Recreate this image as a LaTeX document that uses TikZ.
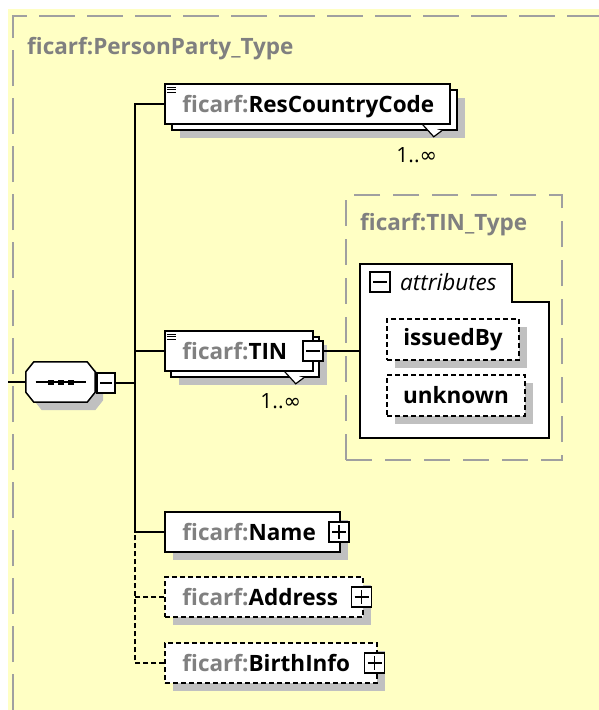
\documentclass[tikz,border=0pt]{standalone}
\usepackage{fontspec}
\setmainfont{Open Sans}
\newfontfamily\symfont{DejaVu Sans}
\usetikzlibrary{calc,shadows}
\definecolor{bgyellow}{RGB}{255,255,196}
\definecolor{frame}{RGB}{160,160,160}
\definecolor{prefix}{RGB}{128,128,128}
\definecolor{shade}{RGB}{192,192,192}
\newcommand{\pfx}{\textcolor{prefix}{ficarf:}}
\newcommand{\occ}{1..{\symfont ∞}}
\tikzset{
  shd/.style={drop shadow={shadow xshift=8pt,shadow yshift=-8pt,opacity=1,fill=shade}},
  elem/.style={draw,line width=1.5,fill=white,minimum height=40,inner sep=0},
  optelem/.style={elem,dash pattern=on 5pt off 3pt},
  lbl/.style={font=\bfseries\fontsize{22.5}{26}\selectfont,inner sep=0},
  occlbl/.style={font=\fontsize{21}{24}\selectfont,inner sep=0},
  tgl/.style={draw,fill=white,line width=1.2,minimum width=20,minimum height=20,inner sep=0},
  tminus/.style={tgl,path picture={\draw[line width=1.2] ($(path picture bounding box.west)+(3,0)$) -- ($(path picture bounding box.east)+(-3,0)$);}},
  tplus/.style={tgl,path picture={\draw[line width=1.2] ($(path picture bounding box.west)+(3,0)$) -- ($(path picture bounding box.east)+(-3,0)$) ($(path picture bounding box.north)+(0,3)$) -- ($(path picture bounding box.south)+(0,-3)$);}},
  typebox/.style={draw=frame,line width=2,dash pattern=on 26pt off 13pt,inner sep=0},
  typetitle/.style={font=\bfseries\fontsize{22.5}{26}\selectfont,text=prefix,inner sep=0},
}
\begin{document}
\begin{tikzpicture}[x=1pt,y=-1pt]
  \useasboundingbox (0,0) rectangle (599,710);
  % Background
  \fill[bgyellow] (8,9) rectangle (599,710);
  \draw[frame,line width=2,dash pattern=on 36pt off 12pt] (13,710) -- (13,16) -- (599,16);
  \node[typetitle,anchor=base west] (ptitle) at (27,54) {ficarf:PersonParty\_Type};

  % Sequence
  \node[minimum width=69,minimum height=40,inner sep=0] (seq) at (60.5,382) {};
  \filldraw[fill=white,line width=1.5,shd] ($(seq.north west)+(8,0)$) -- ($(seq.north east)+(-8,0)$) -- ($(seq.north east)+(0,10)$) -- ($(seq.south east)+(0,-10)$) -- ($(seq.south east)+(-8,0)$) -- ($(seq.south west)+(8,0)$) -- ($(seq.south west)+(0,-10)$) -- ($(seq.north west)+(0,10)$) -- cycle;
  \draw[line width=1.2] ($(seq.center)+(-25,0)$) -- ($(seq.center)+(25,0)$);
  \foreach \dx in {-10,0,10}
    \fill ($(seq.center)+(\dx-3,-2.5)$) rectangle ++(6,5);
  \node[tminus,minimum width=18] (seqt) at (106,383) {};
  \coordinate (spine) at (135,383);
  \draw[line width=1.5] (8,382) -- (seq.west);
  \draw[line width=1.5] (seqt.east) -- (spine);

  % ResCountryCode
  \node[elem,minimum width=285,shd] (rccb) at (314.5,110) {};
  \node[elem,minimum width=285] (rcc) at ($(rccb)+(-7,-6)$) {};
  \foreach \dy in {4,6.5,9}
    \draw[line width=1] ($(rcc.north west)+(3,\dy)$) -- ++(9,0);
  \node[lbl,anchor=base west] (rcclbl) at ($(rcc.west)+(18,8)$) {\pfx ResCountryCode};
  \filldraw[fill=white,line width=1.2] ($(rccb.south east)+(-35,-6)$) -- ($(rccb.south east)+(-24,6)$) -- ($(rccb.south east)+(-16,0)$);
  \node[occlbl] (rccocc) at ($(rccb.south east)+(-41,24)$) {\occ};

  % TIN
  \node[elem,minimum width=148,shd] (tinb) at (245,357) {};
  \node[elem,minimum width=148] (tin) at ($(tinb)+(-6,-6)$) {};
  \foreach \dy in {4,6.5,9}
    \draw[line width=1] ($(tin.north west)+(3,\dy)$) -- ++(9,0);
  \node[lbl,anchor=base west] (tinlbl) at ($(tin.west)+(18,8)$) {\pfx TIN};
  \filldraw[fill=white,line width=1.2] ($(tinb.south east)+(-35,-6)$) -- ($(tinb.south east)+(-24,6)$) -- ($(tinb.south east)+(-16,0)$);
  \node[tminus] (tint) at (313,351) {};
  \node[occlbl] (tinocc) at ($(tinb.south east)+(-39,23)$) {\occ};

  % TIN_Type with attributes
  \node[typebox,minimum width=216,minimum height=265] (tintype) at (454,327.5) {};
  \node[typetitle,anchor=base west] (tintitle) at (360,230) {ficarf:TIN\_Type};
  \node[minimum width=189,minimum height=174,inner sep=0] (attr) at (454.5,351) {};
  \filldraw[fill=white,line width=1.5] (attr.north west) -- ($(attr.north east)+(-37,0)$) -- ($(attr.north east)+(-37,38)$) -- ($(attr.north east)+(0,38)$) -- (attr.south east) -- (attr.south west) -- cycle;
  \node[tminus] (attrt) at (380,282) {};
  \node[font=\itshape\fontsize{22.5}{26}\selectfont,inner sep=0,anchor=base west] (attrlbl) at (400,290) {attributes};
  \node[optelem,minimum width=132,minimum height=41,shd,lbl] (issued) at (453,339.5) {issuedBy};
  \node[optelem,minimum width=138,minimum height=41,shd,lbl] (unknown) at (456,395.5) {unknown};
  \draw[line width=1.5] (tint.east) -- (tint.east -| attr.west);

  % Name
  \node[elem,minimum width=175,shd] (name) at (252.5,532) {};
  \node[lbl,anchor=base west] (namelbl) at ($(name.west)+(18,8)$) {\pfx Name};
  \node[tplus] (namet) at (339,532) {};

  % Address
  \node[optelem,minimum width=198,shd] (addr) at (264,597) {};
  \node[lbl,anchor=base west] (addrlbl) at ($(addr.west)+(18,8)$) {\pfx Address};
  \node[tplus] (addrt) at (361.5,597) {};

  % BirthInfo
  \node[optelem,minimum width=212,shd] (birth) at (271,663) {};
  \node[lbl,anchor=base west] (birthlbl) at ($(birth.west)+(18,8)$) {\pfx BirthInfo};
  \node[tplus] (birtht) at (374.5,663) {};

  % Connectors
  \draw[line width=1.5] (rcc.west) -| (spine);
  \draw[line width=1.5] (tin.west) -- (tin.west -| spine);
  \draw[line width=1.5] (name.west) -| (spine);
  \draw[line width=1.5,dash pattern=on 5pt off 3pt] (addr.west) -- (addr.west -| spine);
  \draw[line width=1.5,dash pattern=on 5pt off 3pt] (birth.west) -| (name.west -| spine);
\end{tikzpicture}
\end{document}
